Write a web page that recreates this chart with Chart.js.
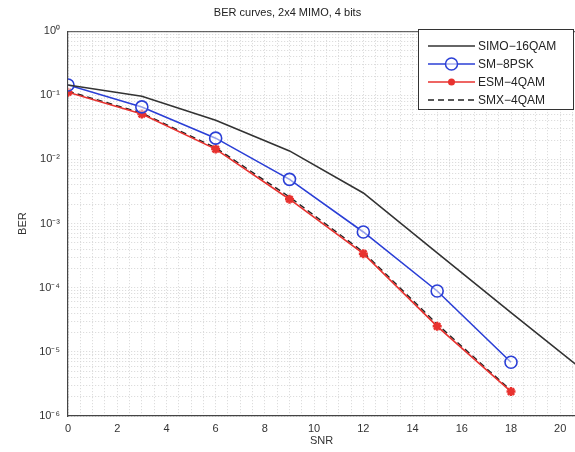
<!DOCTYPE html>
<html>
<head>
<meta charset="utf-8">
<script src="https://cdn.jsdelivr.net/npm/chart.js@4"></script>
<style>
  html, body { margin: 0; padding: 0; background: #fff; }
  #wrap { width: 575px; height: 452px; }
</style>
</head>
<body>
<div id="wrap"><canvas id="berChart"></canvas></div>
<script>
// values
const snrLong = [0, 3, 6, 9, 12, 15, 18, 21];
const snr = [0, 3, 6, 9, 12, 15, 18];
const simo16qam = [0.145, 0.097, 0.041, 0.0136, 0.003, 3.5e-4, 4.1e-5, 4.9e-6];
const sm8psk = [0.145, 0.066, 0.0215, 0.0049, 7.4e-4, 8.9e-5, 6.9e-6];
const esm4qam = [0.112, 0.051, 0.0145, 0.0024, 3.4e-4, 2.5e-5, 2.4e-6];
const smx4qam = [0.116, 0.053, 0.0152, 0.0026, 3.6e-4, 2.7e-5, 2.5e-6];

const xTickLabels = ['0', '2', '4', '6', '8', '10', '12', '14', '16', '18', '20'];
const yTickLabels = ['10⁰', '10⁻¹', '10⁻²', '10⁻³', '10⁻⁴', '10⁻⁵', '10⁻⁶'];

const pts = (xs, ys) => xs.map((x, i) => ({x: x, y: ys[i]}));

Chart.defaults.font.family = '"Liberation Sans", Arial, sans-serif';
Chart.defaults.color = '#333';

// MATLAB-style boxed legend inside the axes, top right
const boxLegend = {
  id: 'boxLegend',
  afterDatasetsDraw(chart) {
    const ctx = chart.ctx;
    const a = chart.chartArea;
    ctx.save();
    // top edge of axes box
    ctx.strokeStyle = '#444';
    ctx.lineWidth = 1;
    ctx.beginPath();
    ctx.moveTo(a.left, a.top + 0.5);
    ctx.lineTo(a.right, a.top + 0.5);
    ctx.stroke();

    const bx = 418, by = 29, bw = 155, bh = 80;
    ctx.fillStyle = '#fff';
    ctx.fillRect(bx, by, bw, bh);
    ctx.strokeStyle = '#333';
    ctx.strokeRect(bx + 0.5, by + 0.5, bw, bh);

    ctx.font = '12px "Liberation Sans", Arial, sans-serif';
    ctx.textBaseline = 'middle';
    chart.data.datasets.forEach((ds, i) => {
      const y = by + 17 + i * 18;
      ctx.strokeStyle = ds.borderColor;
      ctx.lineWidth = ds.borderWidth;
      ctx.setLineDash(ds.borderDash || []);
      ctx.beginPath();
      ctx.moveTo(428, y);
      ctx.lineTo(475, y);
      ctx.stroke();
      ctx.setLineDash([]);
      if (ds.pointStyle === 'circle') {
        ctx.lineWidth = 1.5;
        ctx.fillStyle = 'rgba(255,255,255,0.6)';
        ctx.beginPath();
        ctx.arc(451.5, y, ds.pointRadius, 0, Math.PI * 2);
        ctx.fill();
        ctx.stroke();
      } else if (ds.pointStyle === 'star') {
        ctx.fillStyle = ds.pointBackgroundColor;
        ctx.beginPath();
        ctx.arc(451.5, y, 3.5, 0, Math.PI * 2);
        ctx.fill();
      }
      ctx.fillStyle = '#222';
      ctx.fillText(ds.label, 478, y + 1);
    });
    ctx.restore();
  }
};

new Chart(document.getElementById('berChart'), {
  type: 'line',
  data: {
    datasets: [{
      label: 'SIMO−16QAM',
      data: pts(snrLong, simo16qam),
      borderColor: '#333',
      borderWidth: 1.6,
      pointRadius: 0,
      pointStyle: false
    }, {
      label: 'SM−8PSK',
      data: pts(snr, sm8psk),
      borderColor: '#2b3fd6',
      borderWidth: 1.6,
      pointStyle: 'circle',
      pointRadius: 6,
      pointBorderWidth: 1.6,
      pointBorderColor: '#2b3fd6',
      pointBackgroundColor: 'rgba(255,255,255,0.5)'
    }, {
      label: 'ESM−4QAM',
      data: pts(snr, esm4qam),
      borderColor: '#e8322f',
      borderWidth: 1.6,
      pointStyle: 'star',
      pointRadius: 4.5,
      pointBorderWidth: 2.5,
      pointBorderColor: '#e8322f',
      pointBackgroundColor: '#e8322f'
    }, {
      label: 'SMX−4QAM',
      data: pts(snr, smx4qam),
      borderColor: '#222',
      borderWidth: 1.4,
      borderDash: [6, 4],
      pointRadius: 0,
      pointStyle: false
    }]
  },
  options: {
    responsive: true,
    maintainAspectRatio: false,
    animation: false,
    layout: { padding: 0, autoPadding: false },
    plugins: {
      legend: { display: false },
      tooltip: { enabled: false },
      title: {
        display: true,
        text: 'BER curves, 2x4 MIMO, 4 bits',
        color: '#222',
        font: { size: 11, weight: 'normal' },
        padding: { top: 6, bottom: 12 }
      }
    },
    scales: {
      x: {
        type: 'linear',
        min: 0,
        max: 20.6,
        afterBuildTicks(scale) {
          const t = [];
          for (let v = 0; v <= 20.5; v += 0.5) t.push({value: v});
          scale.ticks = t;
        },
        afterFit(scale) {
          scale.height = 36;
          scale.paddingRight = 0;
        },
        ticks: {
          autoSkip: false,
          maxRotation: 0,
          padding: 6,
          font: { size: 11 },
          color: '#333',
          callback(v) {
            return Number.isInteger(v) && v % 2 === 0 ? xTickLabels[v / 2] : '';
          }
        },
        grid: { color: '#d6d6d6', lineWidth: 1, drawTicks: false },
        border: { color: '#444', width: 1.2, dash: [1, 2] },
        title: {
          display: true,
          text: 'SNR',
          color: '#333',
          font: { size: 11 },
          padding: { top: 0, bottom: 4 }
        }
      },
      y: {
        type: 'logarithmic',
        min: 1e-6,
        max: 1,
        afterBuildTicks(scale) {
          const t = [];
          for (let k = -6; k < 0; k++) {
            for (let m = 1; m <= 9; m++) t.push({value: m * Math.pow(10, k)});
          }
          t.push({value: 1});
          scale.ticks = t;
        },
        afterFit(scale) { scale.width = 68; },
        ticks: {
          autoSkip: false,
          padding: 8,
          font: { size: 11 },
          color: '#333',
          callback(v) {
            const e = Math.log10(v);
            return Math.abs(e - Math.round(e)) < 1e-9 ? yTickLabels[-Math.round(e)] : '';
          }
        },
        grid: { color: '#d6d6d6', lineWidth: 1, drawTicks: false },
        border: { color: '#444', width: 1.2, dash: [1, 2] },
        title: {
          display: true,
          text: 'BER',
          color: '#333',
          font: { size: 11 },
          padding: { top: 16, bottom: 0 }
        }
      }
    }
  },
  plugins: [boxLegend]
});
</script>
</body>
</html>
